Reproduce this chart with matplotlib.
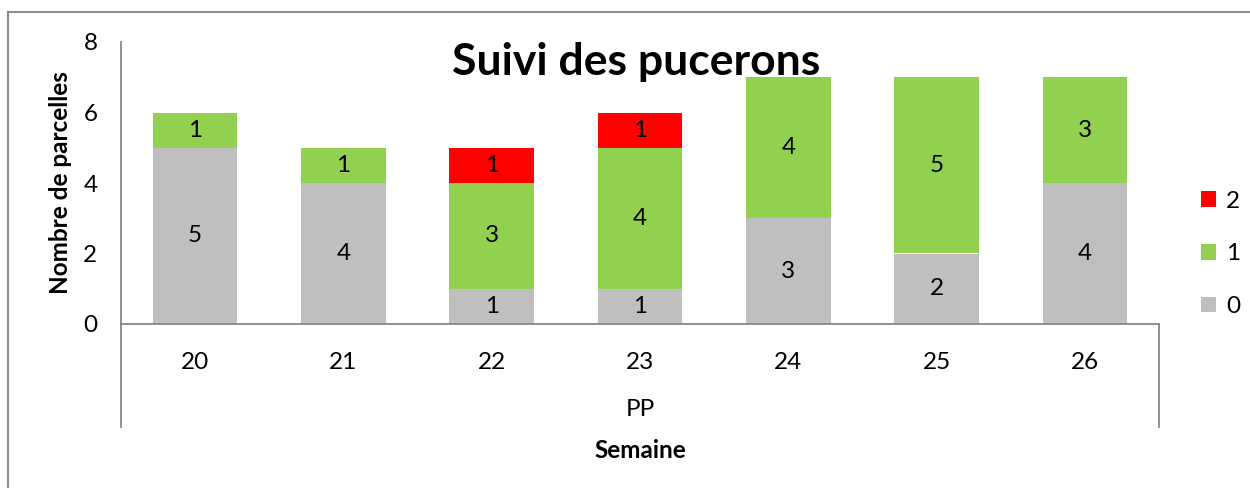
import matplotlib
matplotlib.use("Agg")
import matplotlib.pyplot as plt
from matplotlib.patches import Rectangle
import numpy as np

weeks = ["20", "21", "22", "23", "24", "25", "26"]
group_label = "PP"
series_names = ["0", "1", "2"]
s0 = [5, 4, 1, 1, 3, 2, 4]
s1 = [1, 1, 3, 4, 4, 5, 3]
s2 = [0, 0, 1, 1, 0, 0, 0]
colors = ["#BFBFBF", "#92D050", "#FF0000"]

plt.rcParams['font.family'] = ['Lato', 'DejaVu Sans']

W, H = 1250, 488
FS = 17.5
fig = plt.figure(figsize=(W / 100, H / 100), dpi=100)

# outer frame
fig.patches.append(Rectangle((8 / W, 0 - 0.05), 1.2, 1 - 12 / H + 0.05, transform=fig.transFigure,
                             fill=False, edgecolor="#8C8C8C", linewidth=1.5))

ax = fig.add_axes([121 / W, 1 - 324 / H, (1159 - 121) / W, (324 - 42) / H])
x = np.arange(len(weeks))
width = 0.57
bottom = np.zeros(len(weeks))
handles = []
for vals, name, c in zip([s0, s1, s2], series_names, colors):
    vals = np.array(vals, dtype=float)
    b = ax.bar(x, vals, width, bottom=bottom, color=c, label=name, edgecolor="none")
    handles.append(b)
    for xi, v, bt in zip(x, vals, bottom):
        if v > 0:
            ax.text(xi, bt + v / 2, f"{int(v)}", ha="center", va="center", fontsize=FS, color="black")
    bottom += vals

ax.set_xlim(-0.5, len(weeks) - 0.5)
ax.set_ylim(0, 8)
ax.set_yticks([0, 2, 4, 6, 8])
ax.tick_params(axis="y", length=0, pad=17, labelsize=FS)
ax.set_xticks(x)
ax.set_xticklabels(weeks)
ax.tick_params(axis="x", length=0, pad=20, labelsize=FS)
for sp in ["top", "right"]:
    ax.spines[sp].set_visible(False)
for sp in ["left", "bottom"]:
    ax.spines[sp].set_color("#878787")
    ax.spines[sp].set_linewidth(1.3)

ext = -(427 - 324) / (324 - 42)
ax.plot([0, 0], [0, ext], transform=ax.transAxes, color="#878787", lw=1.3, clip_on=False)
ax.plot([1, 1], [0, ext], transform=ax.transAxes, color="#878787", lw=1.3, clip_on=False)

fig.text(640 / W, 1 - 410 / H, group_label, ha="center", va="center", fontsize=FS)
fig.text(640 / W, 1 - 450 / H, "Semaine", ha="center", va="center", fontsize=FS, fontweight="bold")
fig.text(61 / W, 1 - 183 / H, "Nombre de parcelles", ha="center", va="center", rotation=90,
         fontsize=FS, fontweight="bold")
fig.text(636 / W, 1 - 62 / H, "Suivi des pucerons", ha="center", va="center", fontsize=32, fontweight="bold")

leg = fig.legend(handles[::-1], series_names[::-1], loc="center left", bbox_to_anchor=(1201 / W, 1 - 254 / H),
                 frameon=False, fontsize=FS, handlelength=0.62, handleheight=0.62, labelspacing=1.3,
                 handletextpad=0.4, borderpad=0, borderaxespad=0)

fig.savefig("out.png", dpi=100)
